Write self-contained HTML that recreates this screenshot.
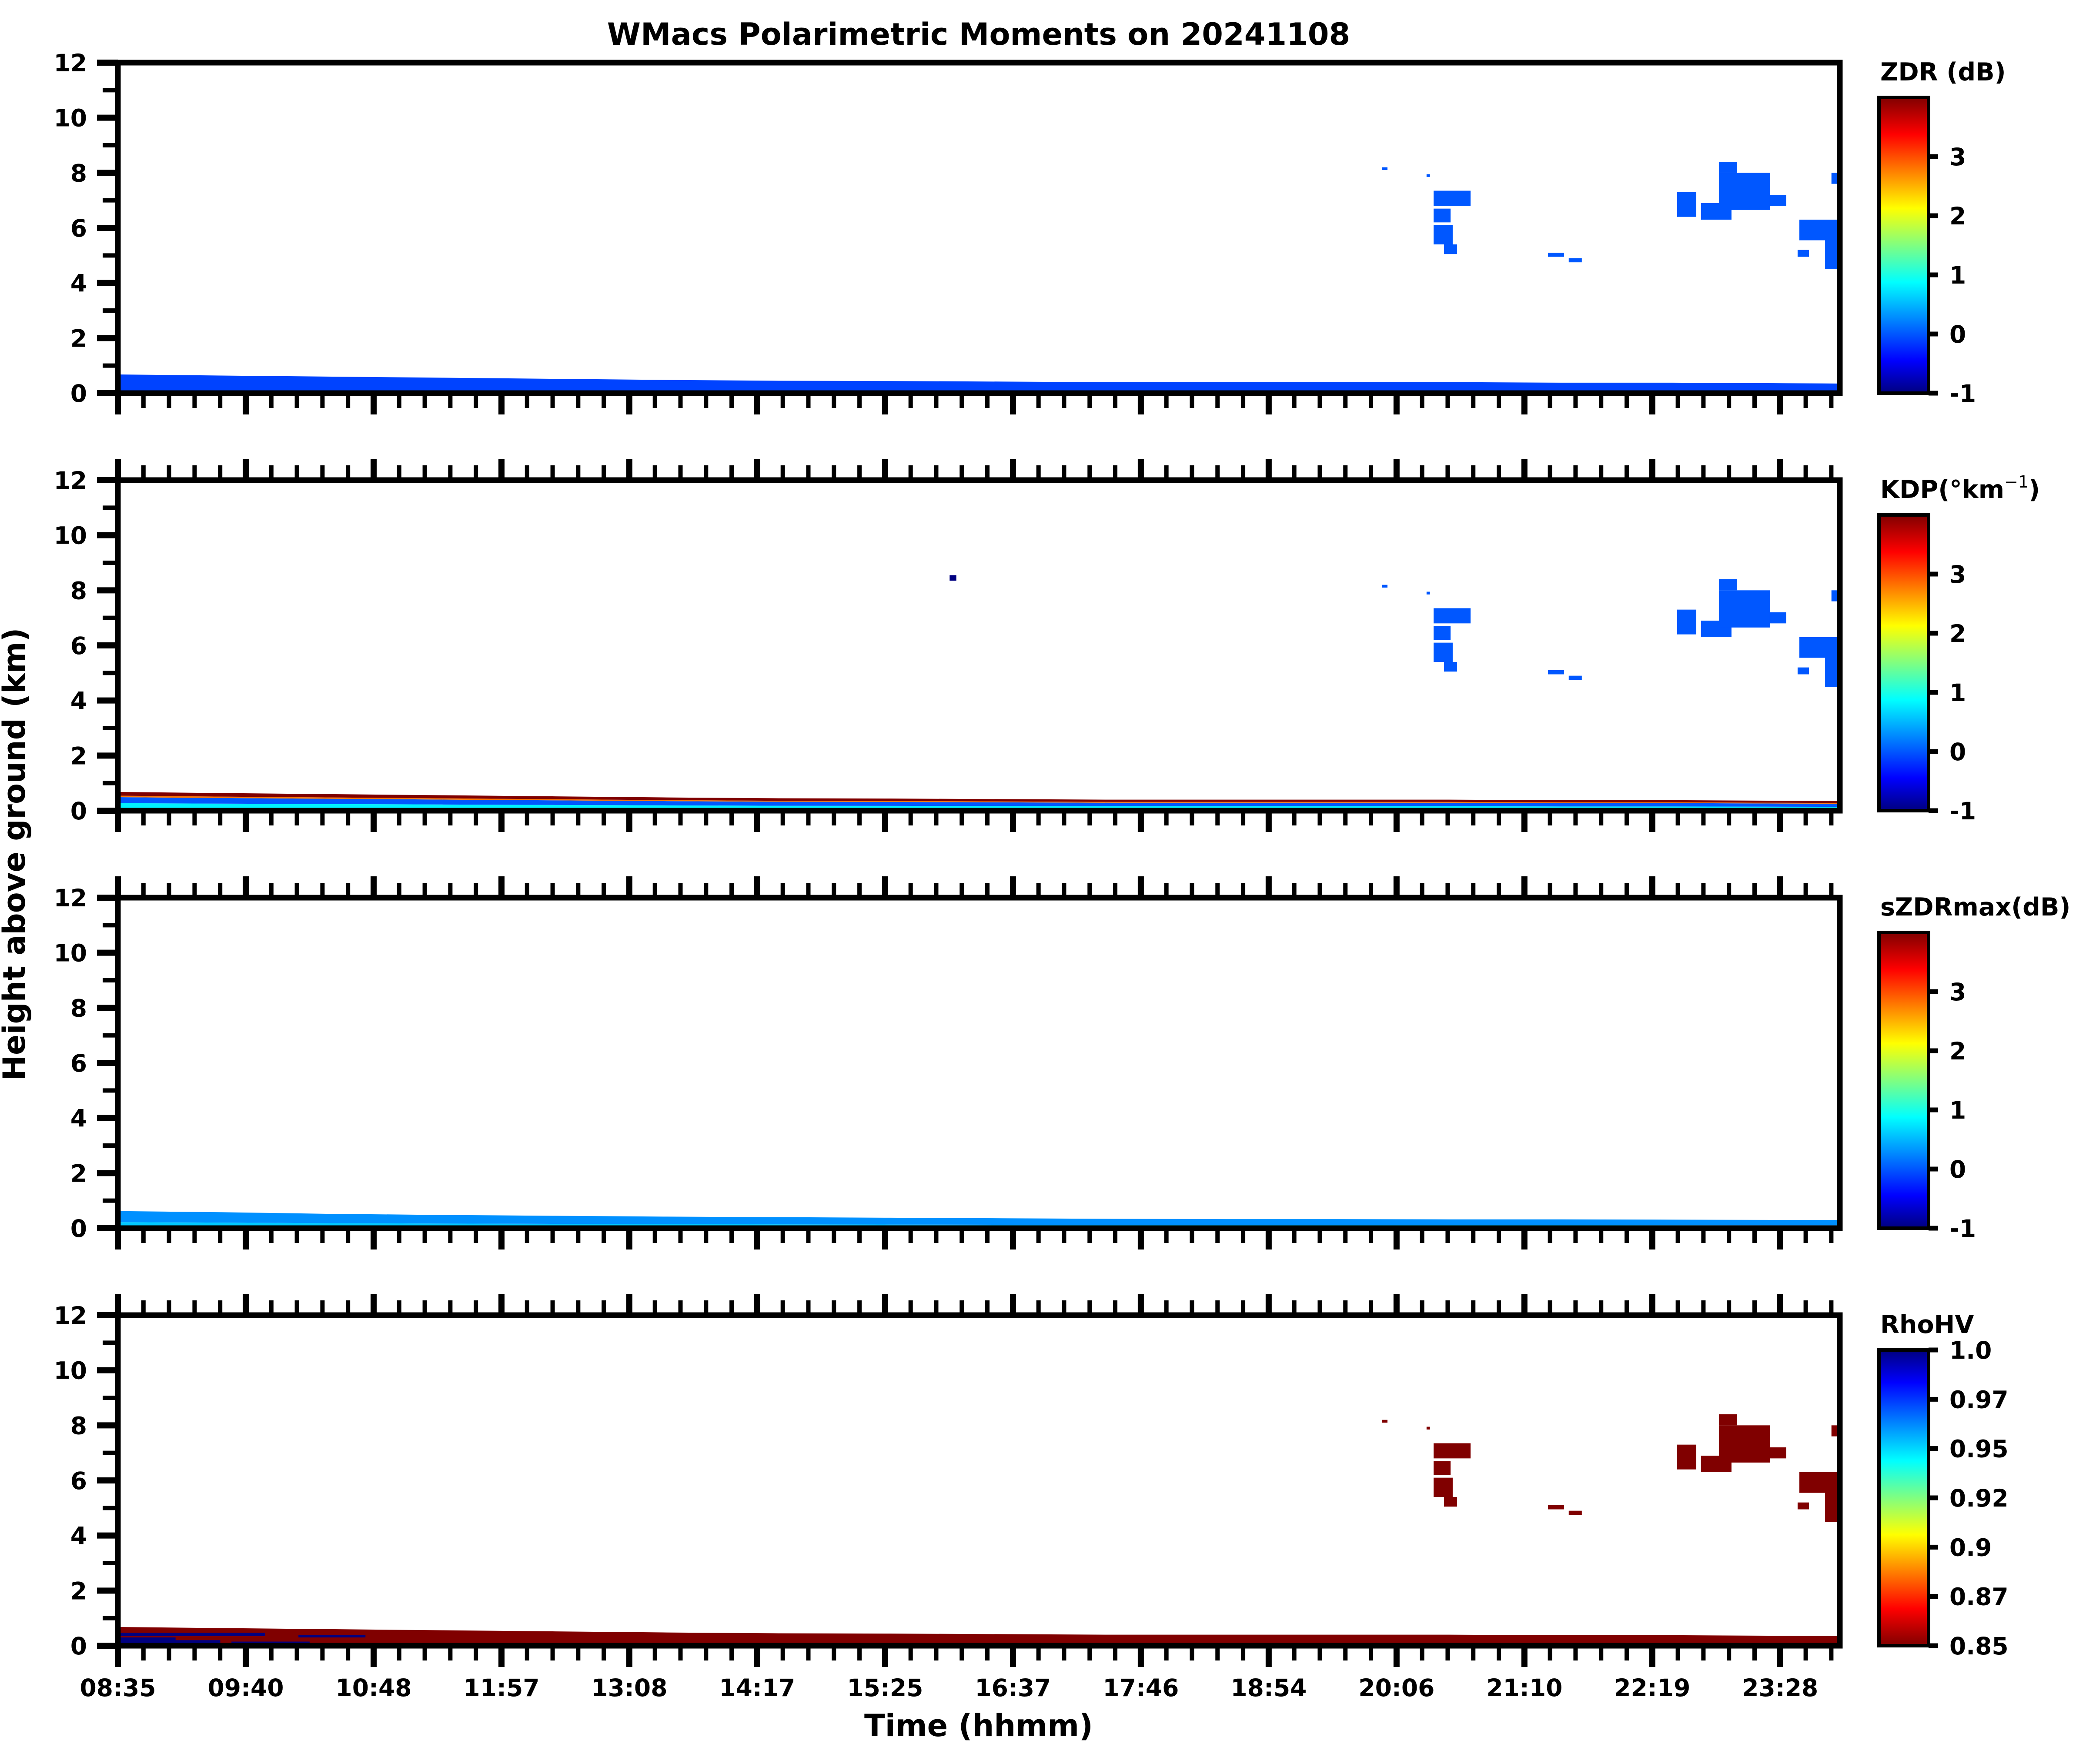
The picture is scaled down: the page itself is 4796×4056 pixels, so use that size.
<!DOCTYPE html>
<html><head><meta charset="utf-8"><title>WMacs Polarimetric Moments</title>
<style>html,body{margin:0;padding:0;background:#fff}svg{display:block}text{font-family:"DejaVu Sans","Liberation Sans",sans-serif;font-weight:bold;fill:#000}</style>
</head><body>
<svg id="fig" xmlns="http://www.w3.org/2000/svg" width="4796" height="4056" viewBox="0 0 4796 4056">
<defs>
<linearGradient id="jetUp" x1="0" y1="1" x2="0" y2="0">
<stop offset="0" stop-color="#000080"/><stop offset="0.11" stop-color="#0000ff"/><stop offset="0.375" stop-color="#00ffff"/><stop offset="0.5" stop-color="#80ff80"/><stop offset="0.625" stop-color="#ffff00"/><stop offset="0.875" stop-color="#ff0000"/><stop offset="1" stop-color="#800000"/>
</linearGradient>
<linearGradient id="jetDown" x1="0" y1="0" x2="0" y2="1">
<stop offset="0" stop-color="#000080"/><stop offset="0.11" stop-color="#0000ff"/><stop offset="0.375" stop-color="#00ffff"/><stop offset="0.5" stop-color="#80ff80"/><stop offset="0.625" stop-color="#ffff00"/><stop offset="0.875" stop-color="#ff0000"/><stop offset="1" stop-color="#800000"/>
</linearGradient>
</defs>
<text x="2250" y="103" font-size="70" text-anchor="middle">WMacs Polarimetric Moments on 20241108</text>
<text x="2250" y="3992" font-size="70" text-anchor="middle">Time (hhmm)</text>
<text x="0" y="0" font-size="70" text-anchor="middle" transform="translate(57,1964) rotate(-90)">Height above ground (km)</text>
</svg>
<script>
// ---- data ----
const xTickLabels = ["08:35","09:40","10:48","11:57","13:08","14:17","15:25","16:37","17:46","18:54","20:06","21:10","22:19","23:28"];
const yTickValues = [0,2,4,6,8,10,12];
const timeStart = 8.5833, timeEnd = 24.0;
const majorTickStepHours = 1.1448;
// cloud patches: [t0, t1, h0, h1] (hours, km)
const cloudT0 = [20.363,20.363,20.363,20.456,21.387,21.573,22.543,22.757,22.917,22.917,23.376,23.638,23.868,23.622,23.925,19.9,20.3];
const cloudT1 = [20.694,20.515,20.534,20.573,21.531,21.690,22.715,23.030,23.376,23.08,23.520,24.0,24.0,23.724,24.0,19.95,20.33];
const cloudH0 = [6.8,6.2,5.4,5.05,4.95,4.75,6.4,6.3,6.65,8.0,6.8,5.55,4.5,4.95,7.6,8.1,7.85];
const cloudH1 = [7.35,6.7,6.1,5.4,5.1,4.9,7.3,6.9,8.0,8.4,7.2,6.3,5.55,5.2,8.0,8.2,7.95];
// ground layer top height (km) vs time
const layerTimes = [8.58,9.5,10.5,11.5,12.5,13.5,14.5,15.5,16.5,17.5,18.5,19.5,20.5,21.5,22.5,23.5,24.0];
const layerTops  = [0.68,0.64,0.60,0.56,0.52,0.48,0.45,0.44,0.42,0.40,0.40,0.40,0.40,0.38,0.38,0.36,0.35];
const sLayerTops = [0.62,0.58,0.52,0.48,0.45,0.42,0.40,0.38,0.36,0.34,0.33,0.33,0.32,0.32,0.31,0.30,0.30];
// per-panel values
const zdrCloudValue = 0.0, zdrLayerValue = -0.1;
const kdpCloudValue = 0.0;
const kdpStripeFrom = [0.0,0.15,0.4,0.72,0.8];
const kdpStripeTo   = [0.15,0.4,0.72,0.8,1.0];
const kdpStripeVal  = [-0.3,0.8,0.0,2.8,4.0];
const kdpSpotT = [16.03], kdpSpotH = [8.45], kdpSpotVal = [-1];
const sLayerFrom = [0,0.35], sLayerTo=[0.35,1], sLayerVal=[0.6,0.3];
const rhoCloudValue = 0.85, rhoLayerValue = 0.85;
const rhoBlueT0=[8.58,8.58,9.0,9.6,10.2], rhoBlueT1=[9.1,9.9,9.5,10.3,10.8], rhoBlueH0=[0.0,0.35,0.05,0.05,0.3], rhoBlueH1=[0.3,0.47,0.2,0.15,0.38];
const rhoBlueVal = 1.0;
const cbarTicksLin = [-1,0,1,2,3];
const rhoTicks = [1.0,0.975,0.95,0.925,0.9,0.875,0.85];
const rhoTickLabels = ["1.0","0.97","0.95","0.92","0.9","0.87","0.85"];

// ---- layout ----
const NS="http://www.w3.org/2000/svg";
const svg=document.getElementById('fig');
const X0=271, X1=4230, PH=760, PERIOD=960, TOP0=144;
function xs(t){return X0+(t-timeStart)/(timeEnd-timeStart)*(X1-X0);}
function ysF(top){return h=>top+PH-h/12*PH;}
function el(tag,attrs,parent){const e=document.createElementNS(NS,tag);for(const k in attrs)e.setAttribute(k,attrs[k]);(parent||svg).appendChild(e);return e;}
const jetStops=[[0,[0,0,128]],[0.11,[0,0,255]],[0.375,[0,255,255]],[0.5,[128,255,128]],[0.625,[255,255,0]],[0.875,[255,0,0]],[1,[128,0,0]]];
function jet(f){f=Math.max(0,Math.min(1,f));for(let i=1;i<jetStops.length;i++){if(f<=jetStops[i][0]){const a=jetStops[i-1],b=jetStops[i];const u=(f-a[0])/(b[0]-a[0]);const c=a[1].map((v,j)=>Math.round(v+(b[1][j]-v)*u));return `rgb(${c[0]},${c[1]},${c[2]})`;}}return 'rgb(128,0,0)';}
function cLin(v){return jet((v+1)/5);}
function cRho(v){return jet((1-v)/0.15);}

const panels=[
 {name:'zdr',label:'ZDR (dB)'},
 {name:'kdp',label:'KDP'},
 {name:'szdr',label:'sZDRmax(dB)'},
 {name:'rhohv',label:'RhoHV'}
];

function layerPoly(g,ys,tops,fromF,toF,color,name){
  let pts=[];
  for(let i=0;i<layerTimes.length;i++)pts.push([xs(layerTimes[i]),ys(tops[i]*toF)]);
  for(let i=layerTimes.length-1;i>=0;i--)pts.push([xs(layerTimes[i]),ys(tops[i]*fromF)]);
  const p=el('polygon',{points:pts.map(p=>p.join(',')).join(' '),fill:color},g);
  
  
}
function clouds(g,ys,color,name){
  for(let i=0;i<cloudT0.length;i++){
    const r=el('rect',{x:xs(cloudT0[i]),y:ys(cloudH1[i]),width:xs(cloudT1[i])-xs(cloudT0[i]),height:ys(cloudH0[i])-ys(cloudH1[i]),fill:color},g);
    
    
  }
}

panels.forEach((p,pi)=>{
  const top=TOP0+pi*PERIOD, bot=top+PH, ys=ysF(top);
  const g=el('g',{});
  
  
  const clip=el('clipPath',{id:'clip'+pi},g);
  el('rect',{x:X0,y:top,width:X1-X0,height:PH},clip);
  const dg=el('g',{'clip-path':'url(#clip'+pi+')'},g);
  
  
  if(p.name==='zdr'){
    layerPoly(dg,ys,layerTops,0,1,cLin(zdrLayerValue),'zdr-ground-layer');
    clouds(dg,ys,cLin(zdrCloudValue),'zdr-cloud');
  } else if(p.name==='kdp'){
    for(let k=0;k<kdpStripeFrom.length;k++)layerPoly(dg,ys,layerTops,kdpStripeFrom[k],kdpStripeTo[k],cLin(kdpStripeVal[k]),'kdp-layer-stripe');
    clouds(dg,ys,cLin(kdpCloudValue),'kdp-cloud');
    for(let k=0;k<kdpSpotT.length;k++){const r=el('rect',{x:xs(kdpSpotT[k]),y:ys(kdpSpotH[k]+0.1),width:xs(kdpSpotT[k]+0.06)-xs(kdpSpotT[k]),height:ys(0)-ys(0.2),fill:cLin(kdpSpotVal[k])},dg);
      
      }
  } else if(p.name==='szdr'){
    for(let k=0;k<sLayerFrom.length;k++)layerPoly(dg,ys,sLayerTops,sLayerFrom[k],sLayerTo[k],cLin(sLayerVal[k]),'szdr-layer');
  } else {
    layerPoly(dg,ys,layerTops,0,1,cRho(rhoLayerValue),'rhohv-ground-layer');
    for(let i=0;i<rhoBlueT0.length;i++){const r=el('rect',{x:xs(rhoBlueT0[i]),y:ys(rhoBlueH1[i]),width:xs(rhoBlueT1[i])-xs(rhoBlueT0[i]),height:ys(rhoBlueH0[i])-ys(rhoBlueH1[i]),fill:cRho(rhoBlueVal)},dg);
      
      }
    clouds(dg,ys,cRho(rhoCloudValue),'rhohv-cloud');
  }
  // frame
  const fr=el('rect',{x:X0,y:top,width:X1-X0,height:PH,fill:'none',stroke:'#000','stroke-width':13},g);
  
  
  // y ticks
  for(let h=0;h<=12;h++){
    const major=h%2===0;
    const len=major?48:35;
    el('line',{x1:X0-len,x2:X0,y1:ys(h),y2:ys(h),stroke:'#000','stroke-width':major?14:10},g);
  }
  yTickValues.forEach(v=>{
    const t=el('text',{x:200,y:ys(v)+20,'font-size':55,'text-anchor':'end'},g);
    t.textContent=String(v);
    
    
  });
  // x ticks
  const nMinor=Math.floor((timeEnd-timeStart)/(majorTickStepHours/5));
  for(let k=0;k<=nMinor;k++){
    const t=timeStart+k*majorTickStepHours/5;
    const major=k%5===0;
    const len=major?49:34;
    const x=xs(t);
    el('line',{x1:x,x2:x,y1:bot,y2:bot+len,stroke:'#000','stroke-width':major?14:10},g);
    if(pi>0)el('line',{x1:x,x2:x,y1:top,y2:top-len,stroke:'#000','stroke-width':major?14:10},g);
  }
  if(pi===3){
    xTickLabels.forEach((lab,i)=>{
      const t=el('text',{x:xs(timeStart+i*majorTickStepHours),y:3900,'font-size':55,'text-anchor':'middle'},g);
      t.textContent=lab;
      
      
    });
  }
  // colorbar
  const cx=4320,cw=114,ct=top+80,cb=bot;
  const cbar=el('rect',{x:cx,y:ct,width:cw,height:cb-ct,fill:p.name==='rhohv'?'url(#jetDown)':'url(#jetUp)',stroke:'#000','stroke-width':8},g);
  
  
  const lab=el('text',{x:4323,y:ct-39,'font-size':57},g);
  
  
  if(p.name==='kdp'){
    lab.textContent='KDP(°km';
    const s=el('tspan',{'font-size':38,'font-weight':'normal',dy:-24},lab);s.textContent='−1';
    const s2=el('tspan',{dy:24},lab);s2.textContent=')';
  } else lab.textContent=p.label;
  if(p.name==='rhohv'){
    rhoTicks.forEach((v,i)=>{
      const y=ct+(1-v)/0.15*(cb-ct);
      el('line',{x1:cx+cw,x2:cx+cw+22,y1:y,y2:y,stroke:'#000','stroke-width':11},g);
      const t=el('text',{x:4482,y:y+20,'font-size':55},g);
      t.textContent=rhoTickLabels[i];
      
      
    });
  } else {
    cbarTicksLin.forEach(v=>{
      const y=cb-(v+1)/5*(cb-ct);
      el('line',{x1:cx+cw,x2:cx+cw+22,y1:y,y2:y,stroke:'#000','stroke-width':11},g);
      const t=el('text',{x:4482,y:y+20,'font-size':55},g);
      t.textContent=String(v);
      
      
    });
  }
});
</script>
</body></html>
